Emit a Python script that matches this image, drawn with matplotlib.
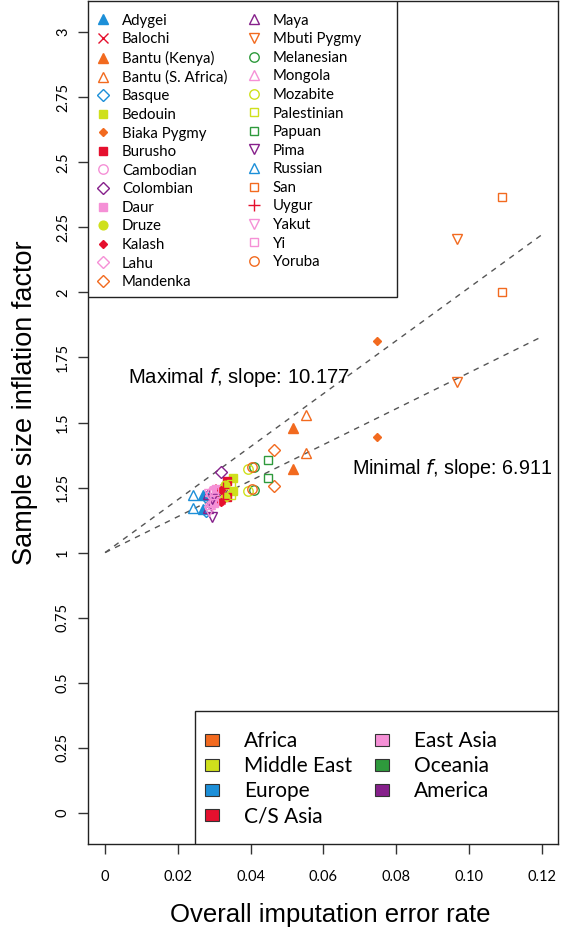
import matplotlib
matplotlib.use("Agg")
import matplotlib.pyplot as plt
from matplotlib.lines import Line2D
from matplotlib.patches import Patch, Rectangle

# ---------------- data ----------------
regions = ["Africa", "Middle East", "Europe", "C/S Asia", "East Asia", "Oceania", "America"]
region_colors = ["#F26A1F", "#CFE01C", "#1C8FD8", "#E5102E", "#F590D6", "#2E9A3C", "#86208B"]

populations = ["Adygei", "Balochi", "Bantu (Kenya)", "Bantu (S. Africa)", "Basque", "Bedouin",
               "Biaka Pygmy", "Burusho", "Cambodian", "Colombian", "Daur", "Druze", "Kalash",
               "Lahu", "Mandenka", "Maya", "Mbuti Pygmy", "Melanesian", "Mongola", "Mozabite",
               "Palestinian", "Papuan", "Pima", "Russian", "San", "Uygur", "Yakut", "Yi", "Yoruba"]
pop_region = ["Europe", "C/S Asia", "Africa", "Africa", "Europe", "Middle East",
              "Africa", "C/S Asia", "East Asia", "America", "East Asia", "Middle East", "C/S Asia",
              "East Asia", "Africa", "America", "Africa", "Oceania", "East Asia", "Middle East",
              "Middle East", "Oceania", "America", "Europe", "Africa", "C/S Asia", "East Asia", "East Asia", "Africa"]
pop_marker = ["^", "x", "^", "^", "D", "s",
              "D", "s", "o", "D", "s", "o", "D",
              "D", "D", "^", "v", "o", "^", "o",
              "s", "s", "v", "^", "s", "+", "v", "s", "o"]
pop_filled = [True, False, True, False, False, True,
              True, True, False, False, True, True, True,
              False, False, False, False, False, False, False,
              False, False, False, False, False, False, False, False, False]

# overall imputation error rate per population
error_rate = [0.0270, 0.0315, 0.0517, 0.0552, 0.0278, 0.0352,
              0.0747, 0.0335, 0.0300, 0.0318, 0.0305, 0.0330, 0.0318,
              0.0292, 0.0465, 0.0283, 0.0967, 0.0408, 0.0288, 0.0392,
              0.0345, 0.0448, 0.0295, 0.0242, 0.1091, 0.0325, 0.0285, 0.0298, 0.0405]
# sample size inflation factor: maximal f and minimal f
f_max = [1.220, 1.245, 1.480, 1.530, 1.215, 1.285,
         1.815, 1.275, 1.240, 1.310, 1.245, 1.260, 1.240,
         1.230, 1.395, 1.225, 2.205, 1.330, 1.235, 1.320,
         1.265, 1.355, 1.205, 1.223, 2.365, 1.250, 1.225, 1.235, 1.330]
f_min = [1.168, 1.205, 1.322, 1.383, 1.160, 1.235,
         1.445, 1.215, 1.195, 1.240, 1.200, 1.215, 1.195,
         1.185, 1.257, 1.170, 1.655, 1.240, 1.185, 1.237,
         1.220, 1.285, 1.138, 1.172, 2.000, 1.205, 1.160, 1.190, 1.245]

slope_max = 10.177
slope_min = 6.911
line_x = [0.0, 0.12]

x_ticks = [0, 0.02, 0.04, 0.06, 0.08, 0.10, 0.12]
x_ticklabels = ["0", "0.02", "0.04", "0.06", "0.08", "0.10", "0.12"]
y_ticks = [0, 0.25, 0.5, 0.75, 1, 1.25, 1.5, 1.75, 2, 2.25, 2.5, 2.75, 3]
y_ticklabels = ["0", "0.25", "0.5", "0.75", "1", "1.25", "1.5", "1.75", "2", "2.25", "2.5", "2.75", "3"]

# ---------------- plot ----------------
fig = plt.figure(figsize=(5.61, 9.32), dpi=100)
ax = fig.add_axes([88/561, 1-844/932, 470/561, 843/932])

col_of = dict(zip(regions, region_colors))

# regression lines
for s in (slope_max, slope_min):
    ax.plot(line_x, [1 + s * x for x in line_x], linestyle=(0, (4, 4)), color="#555555", lw=1.0, zorder=1)

marker_size = {"^": 7.5, "v": 7.0, "o": 6.8, "s": 6.3, "D": 5.8, "x": 6.5, "+": 8.0}
handles = []
for i, p in enumerate(populations):
    c = col_of[pop_region[i]]
    m = pop_marker[i]
    filled = pop_filled[i]
    ms = marker_size[m]
    if m == "D" and filled:
        ms = 4.5
    if m == "o" and filled:
        ms = 6.3
    kw = dict(marker=m, linestyle="none", markersize=ms, markeredgewidth=1.0,
              color=c, markerfacecolor=(c if filled else "none"), markeredgecolor=c)
    ax.plot([error_rate[i], error_rate[i]], [f_max[i], f_min[i]], zorder=3, **kw)
    handles.append(Line2D([], [], label=p, **kw))

ax.text(0.0063, 1.673, "Maximal $\\mathit{f}$, slope: 10.177", fontsize=14.6,
        family="Liberation Sans", va="center", ha="left")
ax.text(0.0679, 1.323, "Minimal $\\mathit{f}$, slope: 6.911", fontsize=14.2,
        family="Liberation Sans", va="center", ha="left")

ax.set_xlim(-0.0047, 0.1245)
ax.set_ylim(-0.12, 3.12)
ax.set_xticks(x_ticks)
ax.set_xticklabels(x_ticklabels, family="Lato", fontsize=10.5)
ax.set_yticks(y_ticks)
ax.set_yticklabels(y_ticklabels, family="Lato", fontsize=10.5, rotation=90, va="center")
ax.tick_params(axis="both", direction="out", length=7, width=1, color="#333333", pad=12)
ax.tick_params(axis="y", pad=6)
for sp in ax.spines.values():
    sp.set_linewidth(1.0)
    sp.set_color("#222222")

ax.set_xlabel("Overall imputation error rate", fontsize=18.5, family="Liberation Sans", va="top")
ax.xaxis.set_label_coords(0.515, -0.070)
ax.set_ylabel("Sample size inflation factor", fontsize=19.5, family="Liberation Sans", va="center")
ax.yaxis.set_label_coords(-0.135, 0.524)

# legend frames
ax.add_patch(Rectangle((0, 0.649), 0.657, 0.351, transform=ax.transAxes, fill=True,
                       facecolor="white", edgecolor="#222222", lw=1.0, zorder=4))
ax.add_patch(Rectangle((0.228, 0), 0.772, 0.158, transform=ax.transAxes, fill=True,
                       facecolor="white", edgecolor="#222222", lw=1.0, zorder=4))

leg1 = ax.legend(handles=handles, ncol=2, loc="upper left", bbox_to_anchor=(0.016, 0.985),
                 borderaxespad=0, borderpad=0, frameon=False, prop={"family": "Lato", "size": 10.8},
                 handlelength=1.0, handletextpad=0.75, labelspacing=0.305, columnspacing=1.3)
leg1.set_zorder(5)
ax.add_artist(leg1)

reg_handles = [Patch(facecolor=c, edgecolor="#333333", linewidth=0.8, label=r)
               for r, c in zip(regions, region_colors)]
leg2 = ax.legend(handles=reg_handles, ncol=2, loc="upper left", bbox_to_anchor=(0.249, 0.1340),
                 borderaxespad=0, borderpad=0, frameon=False,
                 prop={"family": "Lato", "size": 15},
                 handlelength=0.67, handleheight=0.53, handletextpad=1.2, labelspacing=0.24,
                 columnspacing=1.1)
leg2.set_zorder(5)

fig.savefig("out.png", dpi=100)
